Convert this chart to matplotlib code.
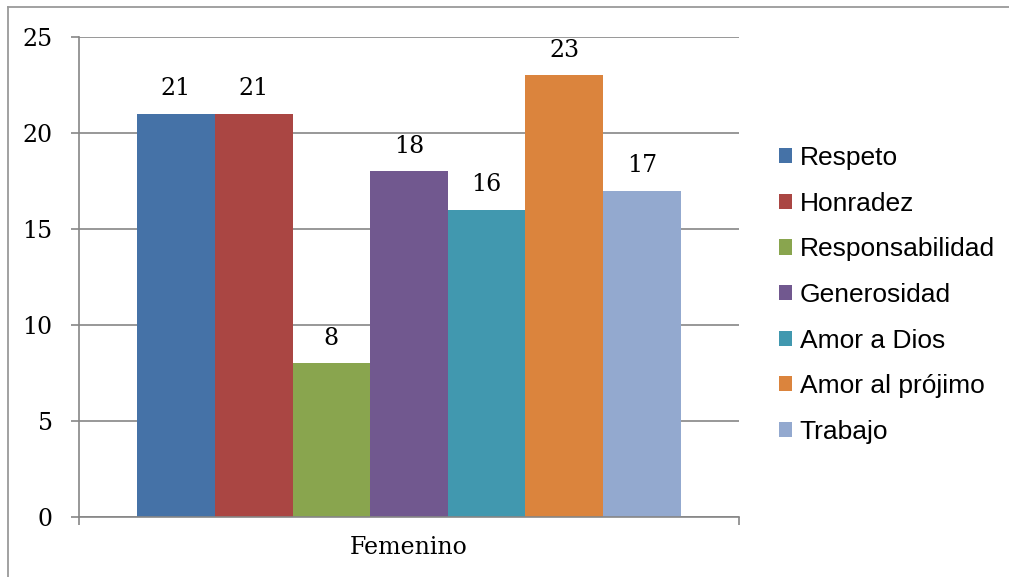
import matplotlib
matplotlib.use("Agg")
import matplotlib.pyplot as plt
from matplotlib.lines import Line2D

category = "Femenino"
series = ["Respeto", "Honradez", "Responsabilidad", "Generosidad",
          "Amor a Dios", "Amor al prójimo", "Trabajo"]
values = [21, 21, 8, 18, 16, 23, 17]
colors = ["#4572A7", "#AA4643", "#89A54E", "#71588F", "#4198AF", "#DB843D", "#93A9CF"]
yticks = [0, 5, 10, 15, 20, 25]

W, H = 1009, 577
fig = plt.figure(figsize=(W / 100, H / 100), dpi=100)
ax = fig.add_axes([79 / W, 1 - 517 / H, (739 - 79) / W, (517 - 37) / H])

gray = "#868686"
serif = "DejaVu Serif"
fs = 17
n = len(values)
for i, (v, c, s) in enumerate(zip(values, colors, series)):
    x = i - (n - 1) / 2
    ax.bar(x, v, width=1.0, color=c, label=s, zorder=3)
    ax.annotate(str(v), (x, v), xytext=(0, 13.5), textcoords="offset points",
                ha="center", va="baseline", fontsize=fs, family=serif, color="black")

ax.set_xlim(-4.25, 4.25)
ax.set_ylim(0, 25)
ax.set_yticks(yticks)
ax.set_yticklabels([str(t) for t in yticks], family=serif, fontsize=fs)
ax.yaxis.grid(True, color=gray, linewidth=1.2, zorder=0)
ax.tick_params(axis="y", length=6, width=1.2, color=gray, pad=13)

ax.set_xticks([0])
ax.set_xticklabels([category], family=serif, fontsize=fs)
ax.tick_params(axis="x", which="major", length=0, pad=14)
ax.set_xticks([-4.25, 4.25], minor=True)
ax.tick_params(axis="x", which="minor", length=5.5, width=1.2, color=gray)

for sp in ["top", "right"]:
    ax.spines[sp].set_visible(False)
for sp in ["left", "bottom"]:
    ax.spines[sp].set_color(gray)
    ax.spines[sp].set_linewidth(1.2)
ax.spines["left"].set_zorder(4)
ax.spines["bottom"].set_zorder(4)

leg = fig.legend(loc="center left", bbox_to_anchor=(779 / W, 1 - 295 / H),
                 frameon=False, handlelength=0.5, handleheight=0.5,
                 handletextpad=0.28, labelspacing=0.82, borderaxespad=0, borderpad=0,
                 prop={"family": "Liberation Sans", "size": 19})

# outer frame (top and left visible)
fig.add_artist(Line2D([7.5 / W, 1], [1 - 6.5 / H, 1 - 6.5 / H], color="#9A9A9A", lw=1.3,
                      transform=fig.transFigure))
fig.add_artist(Line2D([7.5 / W, 7.5 / W], [0, 1 - 6.5 / H], color="#9A9A9A", lw=1.3,
                      transform=fig.transFigure))

fig.savefig("out.png", dpi=100)
